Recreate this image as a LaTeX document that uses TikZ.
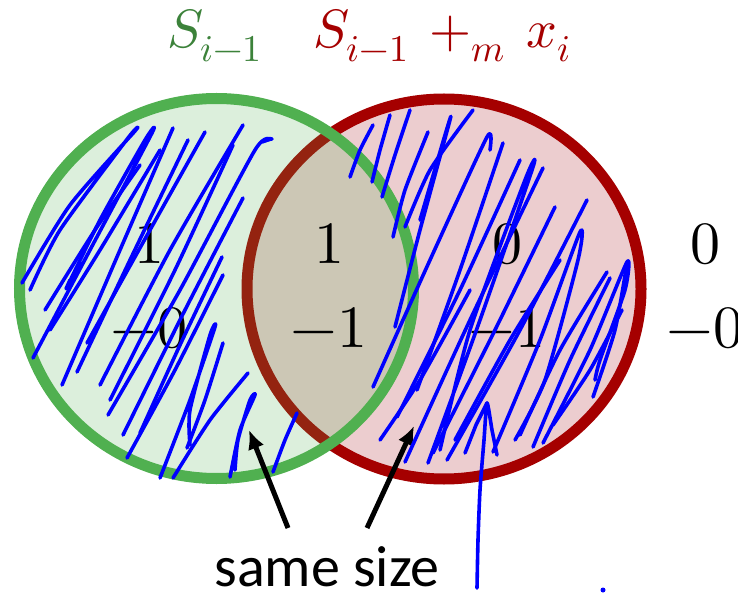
\documentclass[tikz,border=0pt]{standalone}
\usepackage{fontspec}
\usepackage{unicode-math}
\setmathfont{Latin Modern Math}
\newfontfamily\carlito{Carlito}
\usetikzlibrary{arrows.meta}
\definecolor{vgreen}{RGB}{80,176,80}
\definecolor{vred}{RGB}{165,0,0}
\definecolor{lgreen}{RGB}{60,130,58}
\definecolor{lred}{RGB}{165,0,0}
\definecolor{pinkfill}{RGB}{236,205,207}
\definecolor{scribble}{RGB}{0,0,255}
\begin{document}
\begin{tikzpicture}[x=1pt,y=-1pt,
  ring/.style={line width=11pt},
  num/.style={font=\fontsize{60}{72}\selectfont, anchor=base, inner sep=0pt},
  lab/.style={font=\fontsize{54}{64}\selectfont, anchor=base, inner sep=0pt},
  scrib/.style={draw=scribble, line width=3.6pt, line cap=round, line join=round},
  arr/.style={line width=5pt, -{Latex[length=19pt,width=17pt]}}]
\useasboundingbox (0,0) rectangle (738,593);
% ellipses
\fill[pinkfill] (444,289) ellipse [x radius=197pt, y radius=190pt];
\draw[vred, ring] (444,289) ellipse [x radius=197pt, y radius=190pt];
\fill[vgreen, fill opacity=0.2] (216.5,288.5) ellipse [x radius=197pt, y radius=190pt];
\draw[vgreen, ring] (216.5,288.5) ellipse [x radius=197pt, y radius=190pt];
% labels
\node[lab, text=lgreen] (lg) at (214.5,48) {$S_{i-1}$};
\node[lab, text=lred] (lr) at (442,48) {$S_{i-1}\,+_m\,x_i$};
% numbers
\node[num] (c1a) at (149,264) {$1$};
\node[num] (c1b) at (149,347) {$-0$};
\node[num] (c2a) at (329,264) {$1$};
\node[num] (c2b) at (329,347) {$-1$};
\node[num] (c3a) at (507,264) {$0$};
\node[num] (c3b) at (507,347) {$-1$};
\node[num] (c4a) at (705,264) {$0$};
\node[num] (c4b) at (705,347) {$-0$};
% same size
\node[font=\carlito\fontsize{58}{70}\selectfont, anchor=base, inner sep=0pt] (ss) at (327,586) {same size};
\coordinate (a1s) at (288,528);
\coordinate (a1t) at (249,430);
\coordinate (a2s) at (367,528);
\coordinate (a2t) at (414,426);
\draw[arr] (a1s) -- (a1t);
\draw[arr] (a2s) -- (a2t);
% scribbles, green region
\draw[scrib] plot[smooth,tension=0.4] coordinates {(22,283) (70,205) (135,131) (128,138) (60,230) (30,290)};
\draw[scrib] plot[smooth,tension=0.4] coordinates {(33,358) (90,250) (152,133) (145,140) (100,220) (67,287) (70,280)};
\draw[scrib] plot[smooth,tension=0.4] coordinates {(62,385) (120,250) (173,128)};
\draw[scrib] plot[smooth,tension=0.4] coordinates {(77,372) (130,260) (188,140)};
\draw[scrib] plot[smooth,tension=0.4] coordinates {(87,343) (150,230) (205,132)};
\draw[scrib] plot[smooth,tension=0.4] coordinates {(100,385) (170,250) (243,125)};
\draw[scrib] plot[smooth,tension=0.4] coordinates {(110,400) (175,270) (233,145)};
\draw[scrib] plot[smooth,tension=0.4] coordinates {(108,415) (180,290) (255,150) (272,139) (262,142)};
\draw[scrib] plot[smooth,tension=0.4] coordinates {(123,435) (185,310) (243,198)};
\draw[scrib] plot[smooth,tension=0.4] coordinates {(140,433) (180,345) (222,257)};
\draw[scrib] plot[smooth,tension=0.4] coordinates {(127,458) (175,370) (223,275)};
\draw[scrib] plot[smooth,tension=0.4] coordinates {(160,478) (190,400) (215,327) (210,335) (190,410) (190,445)};
\draw[scrib] plot[smooth,tension=0.4] coordinates {(187,448) (205,400) (223,343)};
\draw[scrib] plot[smooth,tension=0.4] coordinates {(173,478) (210,420) (248,373)};
\draw[scrib] plot[smooth,tension=0.4] coordinates {(230,477) (240,430) (255,395) (250,400) (238,440) (235,470)};
\draw[scrib] plot[smooth,tension=0.4] coordinates {(273,472) (285,440) (297,413)};
\draw[scrib] plot[smooth,tension=0.4] coordinates {(50,330) (100,250) (160,150)};
\draw[scrib] plot[smooth,tension=0.4] coordinates {(45,310) (95,230) (140,165)};
% scribbles, red region
\draw[scrib] plot[smooth,tension=0.4] coordinates {(350,177) (360,150) (373,125)};
\draw[scrib] plot[smooth,tension=0.4] coordinates {(372,182) (380,150) (390,115)};
\draw[scrib] plot[smooth,tension=0.4] coordinates {(382,197) (395,155) (410,110)};
\draw[scrib] plot[smooth,tension=0.4] coordinates {(393,237) (405,190) (428,132)};
\draw[scrib] plot[smooth,tension=0.4] coordinates {(405,227) (430,170) (473,110)};
\draw[scrib] plot[smooth,tension=0.4] coordinates {(395,327) (420,230) (450,120) (445,135) (420,220)};
\draw[scrib] plot[smooth,tension=0.4] coordinates {(373,387) (430,260) (487,137) (490,150)};
\draw[scrib] plot[smooth,tension=0.4] coordinates {(417,390) (460,270) (503,143)};
\draw[scrib] plot[smooth,tension=0.4] coordinates {(397,417) (460,290) (520,160)};
\draw[scrib] plot[smooth,tension=0.4] coordinates {(405,462) (470,320) (543,168)};
\draw[scrib] plot[smooth,tension=0.4] coordinates {(428,463) (480,320) (533,167) (525,180) (470,330) (440,450)};
\draw[scrib] plot[smooth,tension=0.4] coordinates {(433,453) (495,330) (555,207)};
\draw[scrib] plot[smooth,tension=0.4] coordinates {(447,460) (520,330) (587,200)};
\draw[scrib] plot[smooth,tension=0.4] coordinates {(493,452) (540,340) (580,232) (578,260) (545,380) (515,440)};
\draw[scrib] plot[smooth,tension=0.4] coordinates {(520,435) (560,350) (607,272)};
\draw[scrib] plot[smooth,tension=0.4] coordinates {(533,447) (570,360) (610,278)};
\draw[scrib] plot[smooth,tension=0.4] coordinates {(543,443) (590,350) (627,262) (625,290) (600,360) (595,380)};
\draw[scrib] plot[smooth,tension=0.4] coordinates {(553,425) (590,370) (622,310)};
\draw[scrib] plot[smooth,tension=0.4] coordinates {(593,397) (615,330) (627,263)};
\draw[scrib] plot[smooth,tension=0.4] coordinates {(380,440) (420,380) (470,290)};
\draw[scrib] plot[smooth,tension=0.4] coordinates {(455,440) (510,340) (560,260)};
% hand-drawn upward stroke
\draw[scrib] plot[smooth,tension=0.4] coordinates {(477,588) (478,540) (480,490) (484,440) (487,403) (492,430) (497,455)};
\draw[scrib] (465,453) -- (476,425) -- (487,403);
\fill[scribble] (603,590) circle [radius=2.5pt];
\end{tikzpicture}
\end{document}
